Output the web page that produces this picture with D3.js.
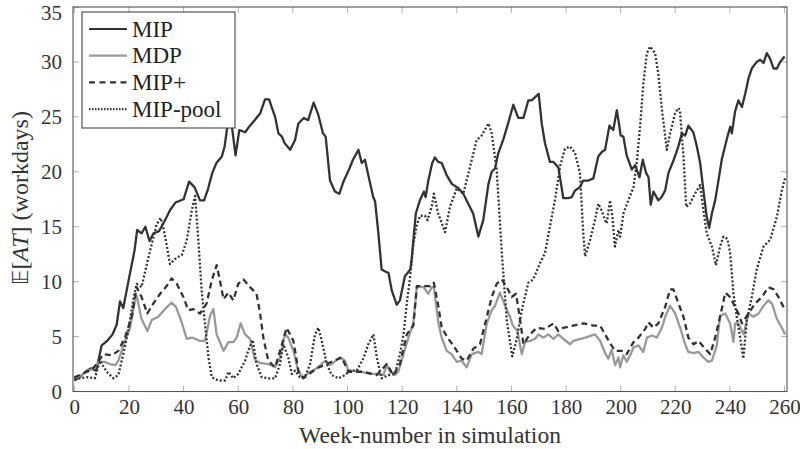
<!DOCTYPE html>
<html><head><meta charset="utf-8">
<script src="https://cdn.jsdelivr.net/npm/d3@7/dist/d3.min.js"></script>
<style>body{margin:0;background:#fff}svg{display:block}</style>
</head><body>
<svg id="c" width="800" height="449"></svg>
<script>
const seriesNames = ["MIP", "MDP", "MIP+", "MIP-pool"];
const xTicks = [0,20,40,60,80,100,120,140,160,180,200,220,240,260];
const yTicks = [0,5,10,15,20,25,30,35];

const MIP = [[0,1.0],[2,1.3],[4,1.8],[6,2.1],[8,1.9],[10,4.2],[12,4.6],[14,5.2],[15.5,6.1],[16.7,8.2],[17.9,7.6],[20,10.3],[22,12.8],[23,14.7],[24.6,14.4],[26,15.0],[27.5,13.7],[29,14.4],[31,14.6],[33,15.5],[35,16.5],[37,17.2],[40,17.5],[42,19.1],[44,18.6],[46,17.4],[47.5,17.4],[49,18.5],[50.5,19.9],[52,20.8],[54,21.4],[55,22.3],[56,24.1],[57,25.3],[58,23.5],[59,21.5],[60.4,23.8],[62.5,23.6],[64.3,24.2],[66,24.7],[68,25.3],[69.8,26.6],[71.3,26.6],[72.2,25.9],[73.5,25.0],[74.7,23.5],[76,23.2],[77,22.6],[79,22.0],[80.8,22.9],[82,24.4],[84,24.9],[85.6,24.7],[87.6,26.3],[89.3,25.2],[91,23.5],[92,23.2],[93.6,19.2],[95.4,18.2],[97,18.0],[98.5,19.1],[100.7,20.3],[102,21.1],[104,22.0],[105.2,20.8],[106.4,21.1],[107.6,19.7],[109.4,17.7],[110.1,17.3],[111.3,14.4],[112.5,11.1],[114,10.9],[115,10.8],[116.2,9.2],[118,7.9],[119.2,8.3],[121,10.5],[123,11.1],[123.5,12.1],[125,16.2],[126.5,17.4],[128,18.2],[128.6,17.7],[129.6,19.2],[131,20.8],[132,21.3],[133.2,20.9],[134.5,20.8],[136.3,19.7],[138.2,18.9],[140.6,18.5],[142.4,18.0],[144.2,17.1],[146,16.2],[147.9,14.1],[149.7,15.6],[151.6,18.9],[152.8,20.0],[154,20.3],[155.2,21.7],[157,22.9],[158.9,24.5],[160.7,26.1],[162.5,24.9],[164.4,24.9],[166.2,26.5],[167.4,26.5],[168.7,26.8],[170,27.1],[171.1,24.4],[172.3,22.6],[174.1,20.9],[175.4,20.9],[177.2,20.4],[179,17.6],[180.8,17.6],[182.1,17.7],[183.3,18.3],[185.1,18.6],[186.3,19.2],[188.2,19.2],[190,19.4],[191.8,21.4],[193.1,21.8],[194.3,22.0],[195.9,24.2],[197.3,23.8],[198.6,25.6],[199.2,24.7],[200,23.3],[201,23.2],[202.2,21.5],[204.1,20.2],[205.3,20.6],[206.9,19.5],[208.1,21.1],[209.3,19.9],[210.2,19.5],[211,17.0],[212,18.2],[213.8,17.4],[215,17.7],[216.3,18.3],[217.5,19.9],[219.3,21.0],[221,22.2],[222.4,23.5],[223.6,23.3],[224.8,24.2],[226.6,23.6],[227.9,22.3],[229.1,20.8],[230.3,18.3],[231.5,15.9],[232.4,14.9],[233.4,16.2],[234.6,17.4],[235.8,19.2],[237,21.1],[238.9,23.0],[240.1,24.1],[240.7,23.5],[241.9,25.5],[243.1,26.5],[244.4,25.9],[245.6,27.1],[246.8,28.5],[248,29.4],[249.8,30.0],[251.1,30.2],[252.3,29.9],[253.5,30.8],[254.7,30.3],[256,29.4],[257.2,29.4],[258.4,30.0],[260,30.5]];

const MDP = [[0,1.2],[2,1.4],[4.5,1.8],[7,2.1],[9,2.7],[11,2.7],[13,2.5],[15,2.4],[16.1,2.8],[18.5,4.6],[20.4,5.8],[22.2,8.3],[22.8,8.7],[24.6,6.6],[26.7,5.5],[28.3,6.5],[30.7,6.8],[33.2,7.5],[35.6,8.1],[37.2,7.7],[39.3,6.3],[41.1,4.8],[43,4.9],[44.2,4.8],[46,4.6],[47.8,4.6],[49.7,6.9],[50.9,7.5],[52.1,5.2],[54.6,3.7],[56.4,4.5],[58.2,4.5],[59.4,4.9],[60.9,6.2],[62.5,5.2],[64.3,4.8],[66.1,2.9],[68,2.6],[71,2.5],[73.5,2.2],[75.3,3.1],[77.1,5.2],[78.3,4.9],[80.2,3.7],[82,1.8],[83.8,1.3],[86.3,1.8],[88.7,2.1],[91.8,2.8],[93.6,2.4],[97.3,3.1],[99.1,2.8],[100.3,1.9],[104.6,1.8],[108.3,1.6],[110.7,1.6],[113.1,1.5],[114.4,2.4],[115.6,1.8],[117.4,1.5],[118.6,1.8],[120.5,3.4],[122.3,4.9],[124.1,6.2],[125.4,9.6],[127.8,9.5],[129.6,8.9],[130.9,9.5],[131.6,9.5],[133.3,6.2],[134.5,4.9],[136.3,3.7],[138.1,3.4],[140,2.7],[141.8,2.8],[143.6,2.2],[145.5,3.4],[147.9,3.6],[149.1,3.4],[151,6.2],[152.8,7.4],[154,7.8],[155.8,9.0],[157.7,7.8],[159.5,6.8],[160.5,6.0],[162.2,5.5],[163.8,3.4],[165,4.5],[166.8,4.6],[168.7,4.8],[169.9,5.2],[171.7,4.9],[173.5,5.2],[175.4,4.8],[177.2,5.2],[179,4.8],[181.5,4.3],[182.7,4.6],[187,4.9],[190.6,5.2],[192.5,4.6],[194.3,3.5],[195.5,3.0],[196.7,3.8],[198,2.4],[199.2,3.1],[199.8,2.2],[201,3.3],[202.2,2.7],[203.5,3.3],[204.7,4.0],[206.5,4.2],[208.3,3.6],[209.6,4.9],[211.4,5.1],[213.2,4.9],[215.1,5.8],[216.3,6.8],[218.1,7.8],[220,7.1],[221.8,5.8],[223.6,4.3],[224.8,3.6],[226.7,3.5],[228.5,3.6],[230.3,3.1],[232.1,2.7],[233.4,2.8],[235.2,4.2],[236.4,6.9],[238.3,7.1],[240.1,6.2],[241.3,4.5],[241.9,6.2],[243.1,6.2],[245,5.2],[246.8,7.1],[248.6,6.8],[250.5,7.1],[252.3,7.8],[254.1,8.3],[255.4,8.0],[257.2,6.6],[259,5.8],[260.2,5.2]];

const MIPplus = [[0,1.3],[2,1.5],[4.5,1.8],[6,1.9],[8.2,2.5],[10.6,3.4],[13.7,3.3],[16.1,3.7],[18.5,4.9],[21,6.8],[22.8,9.5],[24.6,8.6],[26.7,7.1],[28.9,8.0],[31.4,8.9],[33.8,9.6],[35.6,10.3],[37.5,9.8],[39.9,8.6],[41.7,7.4],[43.6,7.5],[46,7.1],[48.4,8.0],[50.3,10.1],[52.1,11.5],[53.3,10.1],[54.6,8.4],[56.4,9.0],[58.2,8.3],[60,9.8],[61.9,10.2],[64.3,9.5],[66.7,8.9],[68,7.1],[69.2,4.9],[71,2.8],[73.5,2.2],[75.3,3.7],[77.7,5.8],[80.2,4.6],[82,1.9],[83.8,1.2],[88.7,2.1],[92.4,2.5],[97.9,3.1],[100.3,1.8],[105.8,1.8],[110.7,1.5],[114.4,2.5],[116.8,1.5],[119.2,2.5],[121.7,5.2],[124.1,6.0],[125.4,9.6],[127.8,9.6],[130.2,9.6],[131.6,9.9],[133.3,7.7],[134.5,5.8],[136.9,4.8],[138.7,4.2],[141.8,3.0],[143.6,2.8],[146.1,3.9],[148.5,4.3],[151,6.8],[152.8,8.6],[154.6,9.8],[156.5,10.2],[158.3,9.5],[160.1,8.6],[161.7,8.9],[163.2,6.5],[164.4,4.3],[166.8,5.2],[169.3,5.8],[172.3,5.7],[175.4,6.2],[177.2,5.5],[179,5.8],[182.7,6.0],[186.4,6.2],[190,6.0],[192.5,6.0],[194.3,5.2],[196.1,4.4],[198,3.7],[200.4,3.7],[202.2,3.4],[204.7,4.5],[206.5,4.9],[209,5.7],[210.2,6.3],[212,5.8],[213.8,6.2],[216.3,7.7],[218.1,9.3],[219.3,9.3],[221.2,8.0],[223,6.8],[224.8,4.9],[226.7,4.3],[228.5,4.6],[230.9,3.9],[232.8,3.4],[234.6,4.9],[236.4,6.8],[238.3,9.0],[240.1,8.6],[241.9,7.7],[243.1,7.1],[244.4,6.2],[246.8,7.1],[249.2,8.0],[251.7,8.6],[254.1,9.5],[256,9.3],[257.8,8.6],[260.2,7.4]];

const MIPpool = [[0,1.2],[2,1.2],[4.5,1.3],[7.5,1.2],[9.4,2.8],[11.8,1.8],[14.3,1.2],[16.1,1.5],[17.9,3.4],[19.7,5.5],[21.6,8.4],[22.8,9.8],[24.6,9.5],[27.1,12.2],[28.9,14.0],[30.1,15.2],[31.6,15.8],[32.6,14.9],[33.8,13.3],[35,11.6],[37.5,12.2],[39.3,12.4],[41.1,13.7],[43,16.5],[44.2,17.8],[45.4,13.7],[46.6,9.2],[47.8,6.2],[49.1,3.1],[50.3,1.3],[52.7,1.0],[55.2,1.0],[56.4,1.8],[58.2,1.2],[60,1.6],[62.5,2.8],[63.5,3.6],[65.3,4.7],[66.7,2.5],[68.6,1.3],[71,1.2],[73.5,1.2],[75.3,2.5],[76.5,4.3],[78.3,3.1],[79.6,1.6],[80.8,1.9],[82.6,1.3],[84.4,1.3],[86.3,2.5],[88.1,5.2],[89.3,5.8],[90.6,4.6],[92.4,2.5],[94.2,1.5],[96.7,1.2],[99.1,1.5],[100.9,1.9],[103.4,1.9],[105.8,3.0],[107.6,4.3],[109.5,5.2],[110.7,3.1],[112.5,1.2],[115,1.5],[117.4,1.6],[119.2,3.4],[120.5,5.2],[121.7,8.0],[122.9,10.4],[124.1,13.4],[125.4,15.2],[126.6,16.0],[128.4,16.0],[129.3,15.6],[130.9,16.9],[131.6,18.0],[133.2,16.2],[135.7,14.5],[137.5,16.8],[140,18.5],[142.4,18.0],[144.9,20.5],[147.3,22.9],[149.1,23.3],[151.6,24.4],[152.8,23.5],[154.6,20.2],[156.5,12.6],[158.3,6.5],[160.3,3.2],[161.9,4.7],[163.8,7.4],[166.2,9.9],[168,10.2],[170.5,11.7],[172.3,12.6],[174.1,15.0],[176,17.5],[177.8,20.5],[179.6,22.1],[181.5,22.3],[183.3,21.7],[185.1,19.9],[186.3,14.4],[187,12.3],[188.8,13.8],[190.6,15.6],[191.8,17.1],[193,16.5],[194.3,15.6],[194.9,15.3],[196.1,17.4],[197,15.9],[197.9,13.2],[199.2,14.7],[199.8,14.1],[201,16.2],[202.8,17.4],[204.7,18.6],[205.9,20.8],[207.1,24.1],[208.3,28.0],[209.6,30.8],[210.8,31.4],[212.6,30.8],[213.8,28.9],[215,25.9],[216.9,22.0],[218.1,23.5],[219.9,25.3],[221.1,25.8],[221.7,25.6],[223,21.4],[224,16.8],[225.4,17.1],[227.2,18.0],[229.1,18.8],[230.3,16.5],[231.5,14.4],[233.4,13.2],[234.9,11.5],[236.4,13.2],[237.6,14.1],[239.1,13.9],[240.1,12.6],[241.3,8.9],[242.5,6.8],[243.7,5.0],[244.9,3.0],[246.2,6.5],[248,8.6],[249.8,11.1],[252.3,13.2],[254.7,13.8],[257.2,15.9],[259,18.3],[260.2,19.4]];

const seriesData = [MIP, MDP, MIPplus, MIPpool];
const styles = [
  {stroke:"#333333", dash:null},
  {stroke:"#999999", dash:null},
  {stroke:"#333333", dash:"6,4"},
  {stroke:"#333333", dash:"2,2"}
];

const svg = d3.select("#c");
const L = 73, R = 787, T = 7, B = 391.5;
const x = d3.scaleLinear().domain([-0.5, 260.9]).range([L, R]);
const y = d3.scaleLinear().domain([0, 35]).range([B, T]);
const FONT = "'Liberation Serif', 'DejaVu Serif', serif";

// ticks (inside, all four sides)
const tg = svg.append("g").attr("stroke", "#b0b0b0").attr("stroke-width", 1);
xTicks.forEach(t => {
  tg.append("line").attr("x1", x(t)).attr("x2", x(t)).attr("y1", B).attr("y2", B - 6);
  tg.append("line").attr("x1", x(t)).attr("x2", x(t)).attr("y1", T).attr("y2", T + 6);
});
yTicks.forEach(t => {
  tg.append("line").attr("x1", L).attr("x2", L + 6).attr("y1", y(t)).attr("y2", y(t));
  tg.append("line").attr("x1", R).attr("x2", R - 6).attr("y1", y(t)).attr("y2", y(t));
});

// axes labels
const xa = d3.axisBottom(x).tickValues(xTicks).tickSize(0).tickPadding(8);
const gx = svg.append("g").attr("transform", `translate(0,${B})`).call(xa);
gx.select(".domain").remove();
gx.selectAll("text").attr("font-family", FONT).attr("font-size", 21).attr("fill", "#333");

const ya = d3.axisLeft(y).tickValues(yTicks).tickSize(0).tickPadding(11);
const gy = svg.append("g").attr("transform", `translate(${L},0)`).call(ya);
gy.select(".domain").remove();
gy.selectAll("text").attr("font-family", FONT).attr("font-size", 21).attr("fill", "#333");
gy.selectAll(".tick").filter(d => d === 35).select("text").attr("dy", "0.6em");

// lines
const clip = svg.append("clipPath").attr("id", "pc").append("rect")
  .attr("x", L).attr("y", T).attr("width", R - L).attr("height", B - T);
const line = d3.line().x(d => x(d[0])).y(d => y(d[1]));
seriesData.forEach((s, i) => {
  svg.append("path").datum(s).attr("d", line).attr("fill", "none")
    .attr("clip-path", "url(#pc)")
    .attr("stroke", styles[i].stroke).attr("stroke-width", 2.3)
    .attr("stroke-linejoin", "round")
    .attr("stroke-dasharray", styles[i].dash);
});

// frame
svg.append("rect").attr("x", L).attr("y", T).attr("width", R - L).attr("height", B - T)
  .attr("fill", "none").attr("stroke", "#555").attr("stroke-width", 1.1);

// legend
const lg = svg.append("g");
lg.append("rect").attr("x", 82).attr("y", 12).attr("width", 153).attr("height", 116)
  .attr("fill", "#fff").attr("stroke", "#444").attr("stroke-width", 1.1);
seriesNames.forEach((n, i) => {
  const yy = 29 + i * 26.7;
  lg.append("line").attr("x1", 89).attr("x2", 127).attr("y1", yy).attr("y2", yy)
    .attr("stroke", styles[i].stroke).attr("stroke-width", 2.2)
    .attr("stroke-dasharray", i === 2 ? "6,4.5" : (i === 3 ? "1.5,1.5" : null));
  lg.append("text").attr("x", 132).attr("y", yy + 7.5).text(n)
    .attr("font-family", FONT).attr("font-size", 23).attr("fill", "#222");
});

// x title
svg.append("text").attr("x", (L + R) / 2).attr("y", 443).attr("text-anchor", "middle")
  .attr("font-family", FONT).attr("font-size", 23.5).attr("fill", "#333")
  .text("Week-number in simulation");

// y title
const yt = svg.append("text").attr("transform", "translate(28,198) rotate(-90)")
  .attr("text-anchor", "middle").attr("font-family", FONT).attr("font-size", 24).attr("fill", "#333");
yt.append("tspan").attr("font-family", "'DejaVu Sans', 'Noto Sans', sans-serif").attr("font-size", 21).text("𝔼");
yt.append("tspan").text("[");
yt.append("tspan").attr("font-style", "italic").text("AT");
yt.append("tspan").text("] (workdays)");
</script>
</body></html>
